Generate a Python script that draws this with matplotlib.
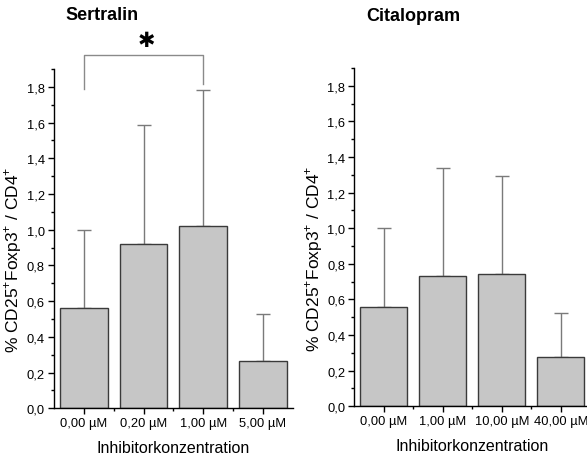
import matplotlib
matplotlib.use("Agg")
import matplotlib.pyplot as plt
from matplotlib.ticker import MultipleLocator, FixedLocator
import numpy as np

plt.rcParams['font.family'] = ['Liberation Sans', 'DejaVu Sans']
plt.rcParams['mathtext.fontset'] = 'custom'
plt.rcParams['mathtext.rm'] = 'Liberation Sans'

# Sertralin
sert_labels = ["0,00 µM", "0,20 µM", "1,00 µM", "5,00 µM"]
sert_means = [0.56, 0.92, 1.02, 0.267]
sert_err = [0.44, 0.665, 0.76, 0.262]

# Citalopram
cita_labels = ["0,00 µM", "1,00 µM", "10,00 µM", "40,00 µM"]
cita_means = [0.557, 0.733, 0.742, 0.276]
cita_err = [0.445, 0.606, 0.552, 0.246]

ylabel = r"% CD25$^{+}$Foxp3$^{+}$ / CD4$^{+}$"
xlabel = "Inhibitorkonzentration"

W, H = 587, 456
fig = plt.figure(figsize=(W / 100, H / 100), dpi=100)

def px_axes(x0, x1, ytop, ybot):
    return fig.add_axes([x0 / W, 1 - ybot / H, (x1 - x0) / W, (ybot - ytop) / H])

ax1 = px_axes(54, 292.7, 70, 409.3)
ax2 = px_axes(354.3, 590.3, 69, 407.3)

def draw(ax, labels, means, errs):
    x = np.arange(len(labels))
    ax.bar(x, means, width=0.8, color="#c6c6c6", edgecolor="#3a3a3a",
           linewidth=1.0, zorder=2)
    ax.errorbar(x, means, yerr=[np.zeros(len(errs)), errs], fmt="none",
                ecolor="#7a7a7a", elinewidth=1.0, capsize=5, capthick=1.0,
                zorder=1)
    ax.set_xlim(-0.5, 3.5)
    ax.set_xticks(x)
    ax.set_xticklabels(labels, fontsize=9.3)
    ax.xaxis.set_minor_locator(FixedLocator([0.5, 1.5, 2.5]))
    ticks = np.arange(0, 1.81, 0.2)
    ax.set_yticks(ticks)
    ax.set_yticklabels([f"{v:.1f}".replace(".", ",") for v in ticks],
                       fontsize=9.3)
    ax.yaxis.set_minor_locator(MultipleLocator(0.1))
    ax.set_ylim(0, 1.9)
    ax.tick_params(axis="both", which="major", direction="out", length=4,
                   width=1, pad=2.5)
    ax.tick_params(axis="both", which="minor", direction="out", length=2.5,
                   width=1)
    for s in ("top", "right"):
        ax.spines[s].set_visible(False)
    for s in ("left", "bottom"):
        ax.spines[s].set_linewidth(1.0)
    ax.set_ylabel(ylabel, fontsize=12.5)
    ax.yaxis.set_label_coords(-0.125, 0.44)
    ax.set_xlabel(xlabel, fontsize=11.5, labelpad=8)
    ax.set_facecolor("none")

draw(ax1, sert_labels, sert_means, sert_err)
draw(ax2, cita_labels, cita_means, cita_err)

fig.text(65 / W, 1 - 15.5 / H, "Sertralin", fontsize=13, fontweight="bold",
         ha="left", va="center")
fig.text(366.7 / W, 1 - 16.5 / H, "Citalopram", fontsize=13, fontweight="bold",
         ha="left", va="center")

# significance bracket between 0,00 µM and 1,00 µM
ax1.plot([0, 0, 2, 2], [1.79, 1.98, 1.98, 1.816], color="#8a8a8a",
         linewidth=1.0, clip_on=False)
ax1.text(1.05, 2.06, "✱", fontsize=15, ha="center", va="center",
         family=["DejaVu Sans"], clip_on=False)

fig.savefig("out.png", dpi=100)
